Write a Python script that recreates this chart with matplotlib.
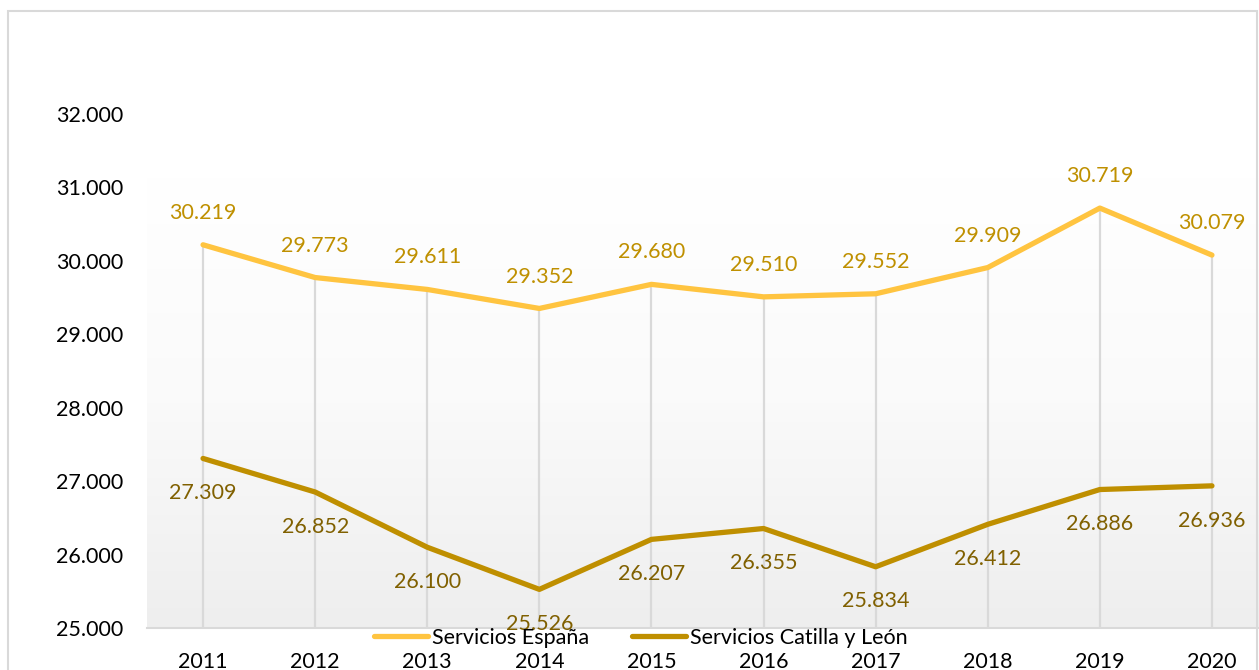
import numpy as np
import matplotlib
matplotlib.use("Agg")
import matplotlib.pyplot as plt
from matplotlib.patches import Rectangle
from matplotlib.colors import LinearSegmentedColormap

plt.rcParams['font.family'] = ['Lato', 'DejaVu Sans']

years = ["2011", "2012", "2013", "2014", "2015", "2016", "2017", "2018", "2019", "2020"]
espana = [30219, 29773, 29611, 29352, 29680, 29510, 29552, 29909, 30719, 30079]
castilla_leon = [27309, 26852, 26100, 25526, 26207, 26355, 25834, 26412, 26886, 26936]
y_ticks = [25000, 26000, 27000, 28000, 29000, 30000, 31000, 32000]

label_espana = "Servicios España"
label_cyl = "Servicios Catilla y León"

W, H = 1259, 670
fig = plt.figure(figsize=(W / 100, H / 100), dpi=100)

# outer chart border
fig.patches.append(Rectangle((8 / W, -0.05), (1257 - 8) / W, (H - 11) / H + 0.05,
                             transform=fig.transFigure, fill=False,
                             edgecolor="#D9D9D9", linewidth=1.5))

left, right = 147, 1268
bottom, top = 628, 40.6
ax = fig.add_axes([left / W, (H - bottom) / H, (right - left) / W, (bottom - top) / H])
ax.patch.set_facecolor("white")

x = np.arange(len(years))
ax.set_xlim(-0.5, len(years) - 0.5)
ax.set_ylim(25000, 33000)

# plot-area shading: light grey at the bottom fading to white near the top
grad = np.linspace(0, 1, 256).reshape(-1, 1)
cmap = LinearSegmentedColormap.from_list("bg", ["#EEEEEE", "#FAFAFA", "#FFFFFF"])
ax.imshow(grad, extent=[-0.5, len(years) - 0.5, 25000, 31120], origin="lower",
          aspect="auto", cmap=cmap, zorder=0, interpolation="bicubic")

# drop lines from the higher series down to the axis
tops = np.maximum(espana, castilla_leon)
ax.vlines(x, 25000, tops, colors="#D9D9D9", linewidth=1.6, zorder=1)

l1, = ax.plot(x, espana, color="#FFC440", linewidth=3.8, zorder=3,
              solid_capstyle="round", label=label_espana)
l2, = ax.plot(x, castilla_leon, color="#BF8F00", linewidth=3.8, zorder=3,
              solid_capstyle="round", label=label_cyl)

def fmt(v):
    return f"{v:,}".replace(",", ".")

for xi, v in zip(x, espana):
    ax.annotate(fmt(v), (xi, v), xytext=(0, 23), textcoords="offset points",
                ha="center", va="center", fontsize=15.5, color="#BF9000",
                zorder=4, annotation_clip=False)
for xi, v in zip(x, castilla_leon):
    t = ax.annotate(fmt(v), (xi, v), xytext=(0, -25), textcoords="offset points",
                    ha="center", va="center", fontsize=15.5, color="#806000",
                    zorder=4)
    t.set_clip_on(True)

ax.set_xticks(x)
ax.set_xticklabels(years)
ax.set_yticks(y_ticks)
ax.set_yticklabels([fmt(v) for v in y_ticks])
ax.tick_params(axis="both", length=0, labelsize=15.5, colors="black")
ax.tick_params(axis="x", pad=17)
ax.tick_params(axis="y", pad=17)
for s in ["top", "right", "left"]:
    ax.spines[s].set_visible(False)
ax.spines["bottom"].set_color("#D9D9D9")
ax.spines["bottom"].set_linewidth(1.5)
ax.grid(False)

leg = fig.legend(handles=[l1, l2], loc="center", bbox_to_anchor=(641 / W, (H - 638) / H),
                 ncol=2, frameon=False, fontsize=15.5, handlelength=2.5,
                 handletextpad=0.2, columnspacing=2.0, borderpad=0, borderaxespad=0)

fig.savefig("out.png", dpi=100)
